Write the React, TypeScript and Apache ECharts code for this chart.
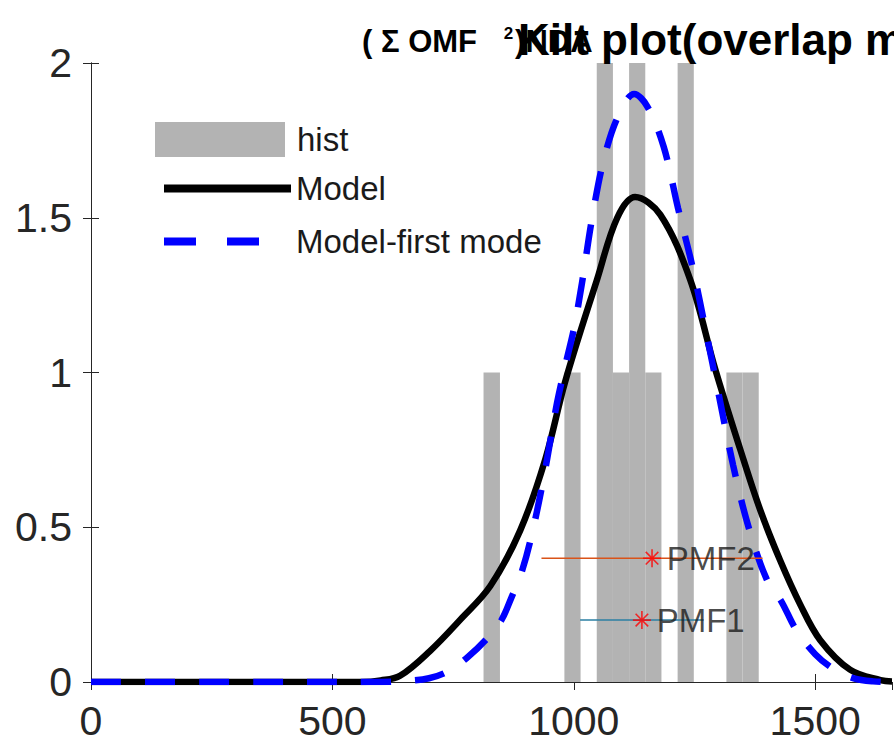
import React, { useEffect, useRef } from 'react';
import * as echarts from 'echarts';

// Histogram bins (left edge, right edge, count)
const binLeft = [813, 980.5, 1047.5, 1081, 1114.5, 1148, 1215, 1316, 1349.5];
const binRight = [847, 1014, 1081, 1114.5, 1148, 1181.5, 1248.5, 1349.5, 1383];
const binCount = [1, 1, 2, 1, 2, 1, 2, 1, 1];

// Model curve
const modelX = [0, 300, 560, 600, 640, 702, 764, 827, 889, 941, 982, 1048, 1090, 1127, 1179, 1241, 1293, 1345, 1386, 1427, 1469, 1510, 1572, 1635, 1659];
const modelY = [0, 0, 0, 0.005, 0.02, 0.1, 0.2, 0.31, 0.49, 0.72, 0.97, 1.3, 1.5, 1.567, 1.51, 1.3, 1.01, 0.75, 0.556, 0.394, 0.25, 0.136, 0.04, 0.006, 0.002];

// Model-first mode curve
const firstX = [0, 300, 600, 650, 700, 740, 780, 820, 850, 870, 893, 915, 940, 965, 985, 1000, 1017, 1038, 1064, 1095, 1125, 1152, 1186, 1216, 1246, 1274, 1300, 1330, 1362, 1400, 1430, 1460, 1500, 1540, 1580, 1620, 1659];
const firstY = [0, 0, 0, 0.003, 0.012, 0.035, 0.08, 0.14, 0.2, 0.27, 0.36, 0.49, 0.68, 0.9, 1.04, 1.14, 1.29, 1.5, 1.7, 1.84, 1.9, 1.86, 1.73, 1.53, 1.34, 1.13, 0.93, 0.7, 0.5, 0.33, 0.26, 0.17, 0.09, 0.04, 0.012, 0.002, 0];

// PMF markers
const pmfNames = ['PMF1', 'PMF2'];
const pmfCenter = [1141, 1162];
const pmfLow = [1013, 933];
const pmfHigh = [1269, 1391];
const pmfLevel = [0.2, 0.4];
const pmfColors = ['#2b7fa3', '#d95319'];

// Axes
const xMin = 0;
const xMax = 1659;
const xStep = 500;
const yMin = 0;
const yMax = 2;
const yStep = 0.5;

const FONT = '"Liberation Sans", Arial, Helvetica, sans-serif';
const AXIS_COLOR = '#262626';
const HIST_COLOR = '#b3b3b3';

export default function App() {
  const ref = useRef<HTMLDivElement>(null);

  useEffect(() => {
    document.body.style.margin = '0';
    if (!ref.current) return;
    const chart = echarts.init(ref.current, null, { renderer: 'svg' });

    const histData = binLeft.map((l, i) => [l, binRight[i], binCount[i]]);
    const modelData = modelX.map((x, i) => [x, modelY[i]]);
    const firstData = firstX.map((x, i) => [x, firstY[i]]);

    const axisCommon = {
      axisLine: { show: true, lineStyle: { color: AXIS_COLOR, width: 1 } },
      axisTick: { show: true, inside: true, length: 8, lineStyle: { color: AXIS_COLOR } },
      splitLine: { show: false },
    };

    const pmfLineSeries = pmfNames.map((n, i) => ({
      name: n + ' range',
      type: 'line',
      data: [[pmfLow[i], pmfLevel[i]], [pmfHigh[i], pmfLevel[i]]],
      symbol: 'none',
      lineStyle: { color: pmfColors[i], width: 1.5 },
      z: 5,
    }));

    const legendText = { fontSize: 33, fontFamily: FONT, color: '#1a1a1a' };

    chart.setOption({
      animation: false,
      backgroundColor: '#ffffff',
      title: [
        {
          text: '{a|( Σ OMF }{s|2}{a|)NDA}',
          left: 357,
          top: 20,
          textStyle: {
            rich: {
              a: { fontSize: 31, fontWeight: 'bold', fontFamily: FONT, color: '#000' },
              s: { fontSize: 17, fontWeight: 'bold', fontFamily: FONT, color: '#000', padding: [0, 2, 16, 18] },
            },
          },
        },
        {
          text: 'Kilt plot(overlap m',
          left: 513,
          top: 12,
          textStyle: { fontSize: 44, fontWeight: 'bold', fontFamily: FONT, color: '#000' },
        },
      ],
      legend: [
        {
          data: [{ name: 'hist', icon: 'rect', itemStyle: { color: HIST_COLOR } }],
          left: 155,
          top: 122,
          padding: 0,
          itemWidth: 130,
          itemHeight: 35,
          textStyle: { ...legendText, padding: [0, 0, 0, 7] },
          selectedMode: false,
        },
        {
          data: ['Model'],
          left: 160,
          top: 172,
          padding: 0,
          itemWidth: 127,
          itemHeight: 30,
          itemStyle: { opacity: 0 },
          lineStyle: { width: 8, color: '#000' },
          textStyle: { ...legendText, padding: [0, 0, 0, 0] },
          selectedMode: false,
        },
        {
          data: ['Model-first mode'],
          left: 160,
          top: 225,
          padding: 0,
          itemWidth: 125,
          itemHeight: 30,
          itemStyle: { opacity: 0 },
          lineStyle: { width: 8, color: '#0000ff', type: [32, 31], cap: 'butt' },
          textStyle: { ...legendText, padding: [0, 0, 0, 2] },
          selectedMode: false,
        },
      ],
      grid: { left: 91, right: 2, top: 63, bottom: 63, containLabel: false },
      xAxis: [
        {
          type: 'value',
          position: 'bottom',
          min: xMin,
          max: xMax,
          interval: xStep,
          ...axisCommon,
          axisLabel: { fontSize: 41, fontFamily: FONT, color: AXIS_COLOR, margin: 18, formatter: (v: number) => String(v) },
        },
        {
          type: 'value',
          position: 'top',
          min: xMin,
          max: xMax,
          interval: xStep,
          ...axisCommon,
          axisLabel: { show: false },
        },
      ],
      yAxis: [
        {
          type: 'value',
          position: 'left',
          min: yMin,
          max: yMax,
          interval: yStep,
          ...axisCommon,
          axisLabel: { fontSize: 41, fontFamily: FONT, color: AXIS_COLOR, margin: 19, formatter: (v: number) => String(v) },
        },
        {
          type: 'value',
          position: 'right',
          min: yMin,
          max: yMax,
          interval: yStep,
          ...axisCommon,
          axisLabel: { show: false },
        },
      ],
      series: [
        {
          name: 'hist',
          type: 'custom',
          data: histData,
          encode: { x: [0, 1], y: 2 },
          itemStyle: { color: HIST_COLOR },
          z: 1,
          renderItem: (params: any, api: any) => {
            const p0 = api.coord([api.value(0), api.value(2)]);
            const p1 = api.coord([api.value(1), 0]);
            return {
              type: 'rect',
              shape: { x: p0[0], y: p0[1], width: p1[0] - p0[0], height: p1[1] - p0[1] },
              style: { fill: HIST_COLOR },
            };
          },
        },
        {
          name: 'Model',
          type: 'line',
          data: modelData,
          symbol: 'none',
          smooth: 0.35,
          lineStyle: { color: '#000000', width: 6.5 },
          z: 3,
        },
        {
          name: 'Model-first mode',
          type: 'line',
          data: firstData,
          symbol: 'none',
          smooth: 0.35,
          lineStyle: { color: '#0000ff', width: 6.5, type: [30, 24], cap: 'butt' },
          z: 4,
        },
        ...pmfLineSeries,
        {
          name: 'PMF',
          type: 'scatter',
          data: pmfNames.map((n, i) => ({ name: n, value: [pmfCenter[i], pmfLevel[i]] })),
          symbol: 'path://M0,10L20,10M10,0L10,20M3,3L17,17M17,3L3,17',
          symbolSize: 18,
          itemStyle: { color: 'rgba(0,0,0,0)', borderColor: '#ff0000', borderWidth: 1.6 },
          label: {
            show: true,
            position: 'right',
            distance: 5,
            formatter: (p: any) => p.name,
            fontSize: 33,
            fontFamily: FONT,
            color: '#1a1a1a',
          },
          z: 6,
        },
      ],
    });

    return () => chart.dispose();
  }, []);

  return <div ref={ref} style={{ width: 894, height: 745 }} />;
}
